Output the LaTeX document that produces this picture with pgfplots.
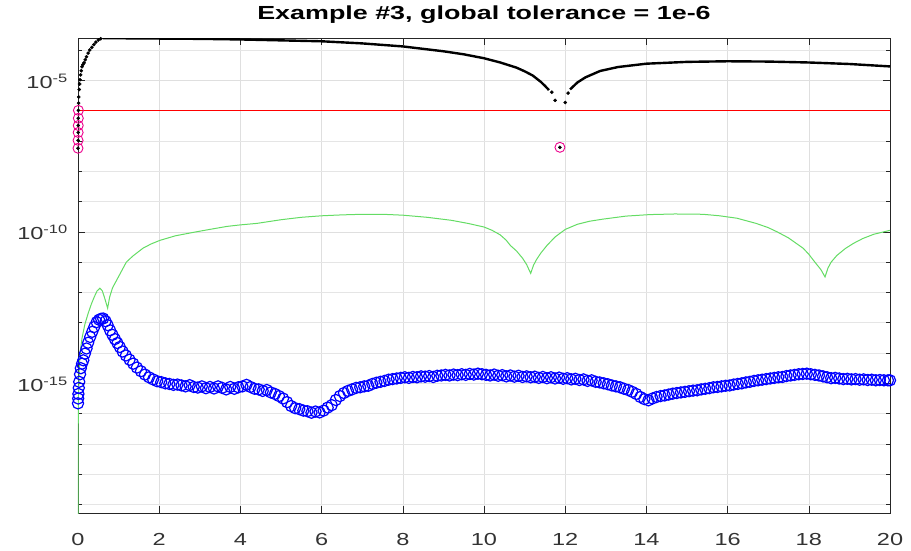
\documentclass[border=0pt]{standalone}
\usepackage{fontspec}
\setmainfont{Liberation Sans}[FakeStretch=1.35]
\newfontfamily\titlefont{Liberation Sans}[FakeStretch=1.42]
\usepackage{pgfplots}
\pgfplotsset{compat=1.18}
\usepackage{pgfplotstable}
\definecolor{mgreen}{RGB}{100,220,100}

% all v columns are log10 of the plotted value
\pgfplotstableread{
x v
0.62 -3.61
1 -3.61
2 -3.62
3 -3.63
4 -3.65
5 -3.68
6 -3.71
7 -3.78
8 -3.88
9 -4.04
9.5 -4.14
10 -4.27
10.4 -4.41
10.8 -4.58
11 -4.70
11.2 -4.84
11.4 -5.05
11.5 -5.18
11.6 -5.32
}\blackA
\pgfplotstableread{
x v
12.12 -5.3
12.3 -5.07
12.5 -4.9
12.86 -4.69
13.3 -4.56
14 -4.45
15 -4.39
16 -4.37
17 -4.38
18 -4.41
19 -4.46
20 -4.54
}\blackB
\pgfplotstableread{
x v
0 -7.24
0.002 -6.98
0.004 -6.72
0.006 -6.49
0.008 -6.25
0.01 -5.99
0.015 -5.75
0.02 -5.55
0.03 -5.3
0.04 -5.12
0.05 -4.98
0.065 -4.82
0.08 -4.68
0.1 -4.55
0.12 -4.48
0.15 -4.42
0.18 -4.32
0.21 -4.22
0.25 -4.1
0.29 -4.0
0.34 -3.91
0.39 -3.82
0.44 -3.74
0.5 -3.67
0.56 -3.63
11.67 -5.39
11.75 -5.66
12.0 -5.73
12.07 -5.42
11.87 -7.21
}\blackdots
\pgfplotstableread{
x v
0 -7.24
0.002 -6.98
0.004 -6.72
0.006 -6.49
0.008 -6.25
0.01 -5.99
11.87 -7.21
}\magpts
\pgfplotstableread{
x v
0 -22
0.003 -17
0.01 -15.5
0.03 -14.5
0.06 -13.9
0.1 -13.5
0.17 -13.05
0.25 -12.69
0.33 -12.38
0.4 -12.15
0.47 -11.95
0.54 -11.86
0.6 -11.95
0.66 -12.2
0.73 -12.52
0.78 -12.15
0.85 -11.85
0.95 -11.6
1.05 -11.35
1.19 -11.0
1.35 -10.8
1.6 -10.54
1.8 -10.4
2.02 -10.28
2.4 -10.13
2.83 -10.02
3.2 -9.93
3.67 -9.82
4.0 -9.77
4.41 -9.72
5.0 -9.6
5.5 -9.52
6.0 -9.47
6.5 -9.44
7.0 -9.42
7.5 -9.42
8 -9.45
8.6 -9.52
9.2 -9.62
9.6 -9.72
10 -9.84
10.2 -9.95
10.4 -10.1
10.55 -10.28
10.65 -10.45
10.8 -10.63
10.95 -10.87
11.05 -11.08
11.15 -11.37
11.22 -11.1
11.3 -10.9
11.4 -10.7
11.55 -10.45
11.75 -10.17
12.0 -9.92
12.3 -9.75
12.6 -9.65
12.93 -9.58
13.5 -9.48
14.09 -9.43
14.7 -9.41
15.39 -9.42
15.8 -9.47
16.23 -9.55
16.7 -9.72
17.0 -9.86
17.22 -10.0
17.5 -10.2
17.86 -10.54
18.0 -10.74
18.15 -11.0
18.3 -11.25
18.4 -11.49
18.47 -11.2
18.55 -11.0
18.69 -10.78
18.9 -10.55
19.1 -10.38
19.33 -10.22
19.6 -10.08
20 -9.95
}\green
\pgfplotstableread{
x v
0 -15.66
0.005 -15.5
0.01 -15.35
0.02 -15.15
0.03 -14.95
0.05 -14.7
0.07 -14.5
0.1 -14.35
0.13 -14.24
0.17 -14.02
0.21 -13.85
0.25 -13.66
0.3 -13.47
0.35 -13.3
0.4 -13.14
0.46 -12.98
0.52 -12.9
0.57 -12.87
0.62 -12.86
0.68 -12.95
0.73 -13.08
0.79 -13.25
0.85 -13.4
0.91 -13.54
0.97 -13.67
1.03 -13.8
1.1 -13.95
1.18 -14.08
1.27 -14.22
1.36 -14.35
1.45 -14.48
1.55 -14.6
1.65 -14.71
1.75 -14.8
1.85 -14.87
1.95 -14.93
2.05 -14.96
2.15 -15.0
2.25 -15.02
2.35 -15.05
2.45 -15.04
2.55 -15.07
2.65 -15.1
2.75 -15.06
2.85 -15.12
2.95 -15.14
3.05 -15.1
3.15 -15.16
3.25 -15.12
3.35 -15.17
3.45 -15.1
3.55 -15.15
3.65 -15.2
3.75 -15.12
3.85 -15.18
3.95 -15.13
4.05 -15.1
4.15 -15.05
4.25 -15.12
4.35 -15.18
4.45 -15.2
4.55 -15.25
4.65 -15.22
4.75 -15.3
4.85 -15.35
4.95 -15.42
5.05 -15.5
5.15 -15.62
5.25 -15.75
5.35 -15.82
5.45 -15.85
5.55 -15.9
5.65 -15.92
5.75 -15.97
5.85 -15.93
5.95 -15.96
6.05 -15.9
6.15 -15.8
6.25 -15.72
6.35 -15.55
6.45 -15.42
6.55 -15.32
6.65 -15.25
6.75 -15.2
6.85 -15.15
6.95 -15.13
7.05 -15.1
7.15 -15.08
7.25 -15.02
7.35 -14.98
7.45 -14.95
7.55 -14.92
7.65 -14.88
7.75 -14.86
7.85 -14.84
7.95 -14.82
8.05 -14.8
8.15 -14.82
8.25 -14.79
8.35 -14.8
8.45 -14.77
8.55 -14.78
8.65 -14.76
8.75 -14.79
8.85 -14.75
8.95 -14.74
9.05 -14.72
9.15 -14.74
9.25 -14.71
9.35 -14.73
9.45 -14.7
9.55 -14.72
9.65 -14.69
9.75 -14.71
9.85 -14.68
9.95 -14.7
10.05 -14.72
10.15 -14.74
10.25 -14.71
10.35 -14.75
10.45 -14.73
10.55 -14.77
10.65 -14.74
10.75 -14.78
10.85 -14.75
10.95 -14.79
11.05 -14.77
11.15 -14.8
11.25 -14.78
11.35 -14.82
11.45 -14.79
11.55 -14.83
11.65 -14.8
11.75 -14.84
11.85 -14.81
11.95 -14.85
12.05 -14.83
12.15 -14.87
12.25 -14.85
12.35 -14.89
12.45 -14.87
12.55 -14.92
12.65 -14.9
12.75 -14.95
12.85 -14.97
12.95 -15.0
13.05 -15.03
13.15 -15.07
13.25 -15.1
13.35 -15.13
13.45 -15.18
13.55 -15.22
13.65 -15.28
13.75 -15.35
13.85 -15.45
13.95 -15.52
14.05 -15.56
14.15 -15.5
14.25 -15.45
14.35 -15.42
14.45 -15.4
14.55 -15.37
14.65 -15.34
14.75 -15.32
14.85 -15.3
14.95 -15.28
15.05 -15.26
15.15 -15.24
15.25 -15.23
15.35 -15.2
15.45 -15.18
15.55 -15.16
15.65 -15.13
15.75 -15.12
15.85 -15.1
15.95 -15.08
16.05 -15.07
16.15 -15.04
16.25 -15.02
16.35 -15.0
16.45 -14.97
16.55 -14.95
16.65 -14.92
16.75 -14.9
16.85 -14.88
16.95 -14.86
17.05 -14.84
17.15 -14.82
17.25 -14.8
17.35 -14.79
17.45 -14.76
17.55 -14.74
17.65 -14.72
17.75 -14.7
17.85 -14.69
17.95 -14.68
18.05 -14.7
18.15 -14.72
18.25 -14.74
18.35 -14.77
18.45 -14.8
18.55 -14.83
18.65 -14.82
18.75 -14.84
18.85 -14.86
18.95 -14.85
19.05 -14.87
19.15 -14.86
19.25 -14.88
19.35 -14.87
19.45 -14.89
19.55 -14.88
19.65 -14.9
19.75 -14.89
19.85 -14.9
19.95 -14.9
20 -14.9
}\blue

\begin{document}
\begin{tikzpicture}
\useasboundingbox (-78bp,-38bp) rectangle (833bp,513bp);
\begin{axis}[
  at={(0,0)}, anchor=south west,
  scale only axis, width=812bp, height=475bp,
  xmin=0, xmax=20, ymode=log, ymin=5.25e-20, ymax=2.5e-4,
  xtick={0,2,...,20},
  xticklabels={0,2,4,6,8,10,12,14,16,18,20},
  ytick={1e-15,1e-10,1e-5},
  yticklabels={10\textsuperscript{-15},10\textsuperscript{-10},10\textsuperscript{-5}},
  minor ytick={1e-19,1e-18,1e-17,1e-16,1e-14,1e-13,1e-12,1e-11,1e-9,1e-8,1e-7,1e-6,1e-4},
  tick align=inside, tick pos=both,
  grid=both,
  major grid style={gray!25, line width=0.5bp},
  minor grid style={gray!20, line width=0.5bp},
  axis line style={black!85, line width=0.6bp},
  tick style={black!85, line width=0.5bp},
  major tick length=7bp, minor tick length=4bp,
  title={\titlefont\bfseries Example \#3, global tolerance = 1e-6},
  title style={at={(0.5,1)}, anchor=base, yshift=13bp, font=\fontsize{19}{22}\selectfont},
  tick label style={font=\fontsize{17.5}{20}\selectfont, text=black!80},
  xticklabel style={anchor=base, inner sep=0pt, yshift=-32bp},
  yticklabel style={anchor=base east, inner sep=0pt, xshift=-10bp, yshift=-8bp},
  clip marker paths=false,
]
\addplot[red, line width=0.7bp] coordinates {(0,1e-6) (20,1e-6)};
\addplot[mgreen, line width=1bp] table[x=x, y expr={10^(\thisrow{v})}] {\green};
\addplot[only marks, blue, mark=o, mark size=5.6bp, mark options={line width=1.2bp}] table[x=x, y expr={10^(\thisrow{v})}] {\blue};
\addplot[only marks, magenta, mark=o, mark size=5bp, mark options={fill=magenta!18, line width=0.9bp}] table[x=x, y expr={10^(\thisrow{v})}] {\magpts};
\addplot[black, line width=2.4bp] table[x=x, y expr={10^(\thisrow{v})}] {\blackA};
\addplot[black, line width=2.4bp] table[x=x, y expr={10^(\thisrow{v})}] {\blackB};
\addplot[only marks, black, mark=*, mark size=1.6bp] table[x=x, y expr={10^(\thisrow{v})}] {\blackdots};
\end{axis}
\end{tikzpicture}
\end{document}
